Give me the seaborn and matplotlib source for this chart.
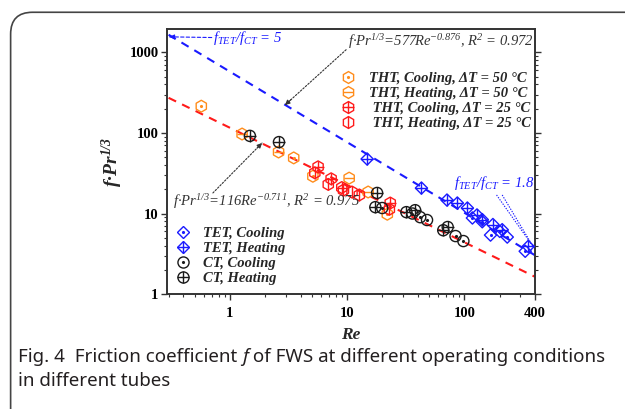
import matplotlib
matplotlib.use('Agg')
import matplotlib.pyplot as plt
import seaborn as sns
import numpy as np
from matplotlib.lines import Line2D
from matplotlib.patches import FancyBboxPatch

# ---- data ----
tht_c50_re = [0.57, 3.5, 5.1, 22.0]
tht_c50_f = [215, 49, 29, 9.8]
tht_h50_re = [1.27, 2.6, 10.4, 15.1]
tht_h50_f = [97, 58, 27.5, 18.5]
tht_c25_re = [5.65, 7.3, 9.0, 23.3]
tht_c25_f = [38, 27, 21, 13.5]
tht_h25_re = [5.3, 6.9, 9.3, 11.0, 12.7, 22.9]
tht_h25_f = [32, 23, 19.5, 18.5, 17, 11.3]

tet_c_re = [117, 142, 167, 200, 232, 330]
tet_c_f = [8.8, 7.9, 5.4, 6.0, 5.1, 3.4]
tet_h_re = [14.8, 43, 71, 87, 106, 128, 142, 175, 210, 350]
tet_h_f = [47.5, 20.7, 14.7, 13.5, 11.7, 9.6, 8.4, 7.3, 6.3, 3.9]

ct_c_re = [19.9, 36, 42, 48, 84, 98]
ct_c_f = [11.7, 10.0, 9.0, 8.3, 5.25, 4.55]
ct_h_re = [1.48, 2.62, 18.0, 17.4, 32, 38, 66, 72]
ct_h_f = [92, 77, 18, 12, 10.4, 11, 6.2, 6.8]

# fits: f*Pr^(1/3) = C * Re^n
tet_fit = (577, -0.876)
ct_fit = (116, -0.711)
re_range = [0.3, 400]

BLUE = '#1a1aff'
RED = '#ff1a1a'
ORANGE = '#ff8c1a'
BLACK = '#1a1a1a'
GREY = '#333333'

sns.set_theme(style='white')
plt.rcParams['font.family'] = ['Liberation Serif', 'DejaVu Serif']
plt.rcParams['mathtext.fontset'] = 'custom'
plt.rcParams['mathtext.rm'] = 'Liberation Serif:italic'
plt.rcParams['mathtext.it'] = 'Liberation Serif:italic'
plt.rcParams['mathtext.bf'] = 'Liberation Serif:bold:italic'
plt.rcParams['mathtext.bfit'] = 'Liberation Serif:bold:italic'

fig = plt.figure(figsize=(6.25, 4.09), dpi=100)
fig.patch.set_facecolor('white')
ax = fig.add_axes([0.267, 0.281, 0.589, 0.648])

# outer rounded frame
frame = FancyBboxPatch((0.017, -0.1), 1.1, 1.07, boxstyle='round,pad=0,rounding_size=0.035',
                       transform=fig.transFigure, fill=False, ec='#444444', lw=1.2,
                       clip_on=False, mutation_aspect=625 / 409)
fig.add_artist(frame)

# fit lines
for (c, n), col in [(tet_fit, BLUE), (ct_fit, RED)]:
    xs = np.array(re_range)
    sns.lineplot(x=xs, y=c * xs ** n, color=col, lw=1.5, dashes=(4, 3.2), ax=ax, zorder=2)

def series(re, f, color, base, inner, ms, ims):
    sns.scatterplot(x=re, y=f, marker=base, s=ms ** 2, facecolor='none', edgecolor=color,
                    linewidth=1.0, ax=ax, legend=False, zorder=3)
    ax.plot(re, f, ls='none', marker=inner, ms=ims, color=color, mew=1.0, zorder=3)
    return (Line2D([], [], ls='none', marker=base, ms=ms, mfc='none', mec=color, mew=1.0),
            Line2D([], [], ls='none', marker=inner, ms=ims, color=color, mew=1.0))

h1 = series(tht_c50_re, tht_c50_f, ORANGE, 'h', '.', 8.5, 2.5)
h2 = series(tht_h50_re, tht_h50_f, ORANGE, 'h', '_', 8.5, 7.5)
h3 = series(tht_c25_re, tht_c25_f, RED, 'h', '+', 8.5, 8)
h4 = series(tht_h25_re, tht_h25_f, RED, 'h', '|', 8.5, 8)
h5 = series(tet_c_re, tet_c_f, BLUE, 'D', '.', 6.2, 2.5)
h6 = series(tet_h_re, tet_h_f, BLUE, 'D', '+', 6.2, 8.6)
h7 = series(ct_c_re, ct_c_f, BLACK, 'o', '.', 8, 2.5)
h8 = series(ct_h_re, ct_h_f, BLACK, 'o', '+', 8, 8)

ax.set_xscale('log')
ax.set_yscale('log')
ax.set_xlim(0.29, 400)
ax.set_ylim(1, 1950)
ax.set_xticks([1, 10, 100, 400], ['1', '10', '100', '400'])
ax.set_yticks([1, 10, 100, 1000], ['1', '10', '100', '1000'])
ax.minorticks_on()
ax.xaxis.set_minor_formatter(plt.NullFormatter())
ax.yaxis.set_minor_formatter(plt.NullFormatter())
for lab in ax.get_xticklabels() + ax.get_yticklabels():
    lab.set_fontweight('bold')
    lab.set_fontsize(10.5)
ax.tick_params(which='both', direction='out', color=GREY, left=True, bottom=True, right=True,
               top=False, labelcolor='black')
ax.tick_params(axis='x', pad=5)
ax.tick_params(axis='y', pad=1.5)
ax.tick_params(which='major', length=4.5, width=1.0)
ax.tick_params(which='minor', length=2.5, width=0.8)
for s in ax.spines.values():
    s.set_color(GREY)
    s.set_linewidth(1.4)

ax.set_xlabel('Re', fontsize=12.5, fontweight='bold', style='italic', labelpad=5)
ax.set_ylabel(r'f·Pr$^{\mathbf{1/3}}$', fontsize=14, fontweight='bold', style='italic',
              labelpad=3)

# annotations
def arrow(tail, tip, color, ls):
    ax.annotate('', xy=tip, xytext=tail,
                arrowprops=dict(arrowstyle='-', color=color, lw=0.8, ls=ls, shrinkA=0, shrinkB=0))
    back = (10 ** (np.log10(tip[0]) * 0.9 + np.log10(tail[0]) * 0.1),
            10 ** (np.log10(tip[1]) * 0.9 + np.log10(tail[1]) * 0.1))
    ax.annotate('', xy=tip, xytext=back,
                arrowprops=dict(arrowstyle='-|>', color=color, lw=0.8, mutation_scale=7,
                                shrinkA=0, shrinkB=0))

ax.text(0.72, 1530, r'$f_{TET}/f_{CT}$ = 5', color=BLUE, fontsize=10.5, style='italic',
        ha='left', va='center')
arrow((0.70, 1530), (0.305, 1560), BLUE, (0, (3, 2)))

ax.text(10.2, 1355, r'f·Pr$^{1/3}$=577Re$^{-0.876}$, R$^2$ = 0.972', color='#333333',
        fontsize=10.5, style='italic', ha='left', va='center')
arrow((9.8, 1080), (2.95, 222), '#333333', (0, (1.5, 1.5)))

ax.text(0.326, 13.9, r'f·Pr$^{1/3}$=116Re$^{-0.711}$, R$^2$ = 0.975', color='#333333',
        fontsize=10.5, style='italic', ha='left', va='center')
arrow((0.716, 18.0), (1.88, 75), '#333333', (0, (1.5, 1.5)))

ax.text(82, 23.9, r'$f_{TET}/f_{CT}$ = 1.8', color=BLUE, fontsize=10.5, style='italic',
        ha='left', va='center')
for x0 in [188, 210]:
    ax.plot([x0, 385], [17.0, 3.9], color=BLUE, lw=0.8, ls=(0, (1.2, 1.2)), zorder=2)

# legends
leg_kw = dict(frameon=False, prop=dict(family='Liberation Serif', weight='bold', style='italic',
                                       size=10.5),
              handlelength=1.0, handletextpad=0.9, labelspacing=0.12, borderaxespad=0.2)
leg1 = ax.legend([h1, h2, h3, h4],
                 ['THT, Cooling, ΔT = 50 °C', 'THT, Heating, ΔT = 50 °C',
                  ' THT, Cooling, ΔT = 25 °C', ' THT, Heating, ΔT = 25 °C'],
                 loc='upper right', bbox_to_anchor=(1.012, 0.87), **leg_kw)
ax.add_artist(leg1)
ax.legend([h5, h6, h7, h8], ['TET, Cooling', 'TET, Heating', 'CT, Cooling', 'CT, Heating'],
          loc='lower left', bbox_to_anchor=(0.0, 0.0), **leg_kw)

# caption
cap_font = 'Noto Sans'
cap_col = '#231f20'
renderer = fig.canvas.get_renderer()
pieces = [('Fig. 4', 'bold', 'normal'), ('  Friction coefficient ', 'normal', 'normal'),
          ('f', 'normal', 'italic'), (' of FWS at different operating conditions', 'normal', 'normal')]
size = 10
total = 0
for txt, w, st in pieces:
    t = fig.text(0, 0, txt, family=cap_font, weight=w, style=st, size=size)
    total += t.get_window_extent(renderer).width
    t.remove()
size = size * 586 / total
x = 18
y1 = 1 - 357 / 409
for txt, w, st in pieces:
    t = fig.text(x / 625, y1, txt, family=cap_font, weight=w, style=st, size=size,
                 color=cap_col, va='center')
    x += t.get_window_extent(renderer).width
fig.text(18 / 625, 1 - 381 / 409, 'in different tubes', family=cap_font, size=size,
         color=cap_col, va='center')

fig.savefig('out.png', dpi=100, facecolor='white')
